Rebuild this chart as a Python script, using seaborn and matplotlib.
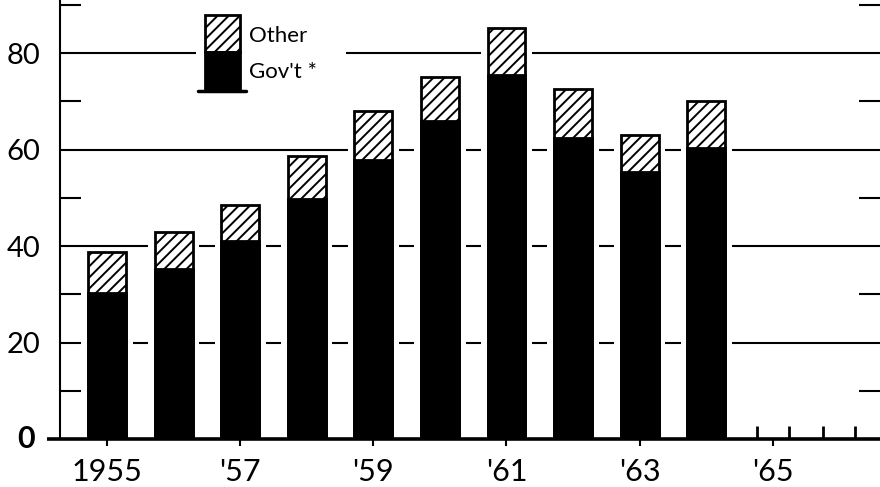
import numpy as np
import pandas as pd
import seaborn as sns
import matplotlib
matplotlib.use("Agg")
import matplotlib.pyplot as plt
from matplotlib.patches import Rectangle
from matplotlib.lines import Line2D

# ---- data ----
years = [1955, 1956, 1957, 1958, 1959, 1960, 1961, 1962, 1963, 1964]
gov = [30.3, 35.2, 41.1, 49.8, 57.8, 65.9, 75.4, 62.3, 55.4, 60.4]
total = [38.8, 42.9, 48.5, 58.7, 67.9, 75.1, 85.2, 72.6, 63.0, 70.1]
future_years = [1965, 1966]
xtick_years = [1955, 1957, 1959, 1961, 1963, 1965]
xtick_labels = ["1955", "'57", "'59", "'61", "'63", "'65"]
ytick_major = [0, 20, 40, 60, 80]
ytick_labels = ["0", "20", "40", "60", "80"]
ytick_minor = [10, 30, 50, 70, 90]
legend_labels = ["Other", "Gov't *"]

df = pd.DataFrame({"year": years, "gov": gov, "total": total})

sns.set_theme(style="white")
plt.rcParams["font.family"] = ["Lato", "DejaVu Sans"]
plt.rcParams["text.color"] = "black"
plt.rcParams["xtick.color"] = "black"
plt.rcParams["ytick.color"] = "black"
plt.rcParams["xtick.labelcolor"] = "black"
plt.rcParams["ytick.labelcolor"] = "black"
plt.rcParams["hatch.linewidth"] = 1.4
plt.rcParams["hatch.color"] = "black"

W, H = 880, 487
fig = plt.figure(figsize=(W / 100, H / 100), dpi=100)
ax = fig.add_axes([60 / W, 48 / H, 820 / W, 439 / H])

BAR_W = 0.57
HALO = 0.2

# gridlines
for yv in ytick_major[1:]:
    ax.axhline(yv, color="black", lw=1.5, zorder=0.5)

# white halo around bars
sns.barplot(data=df, x="year", y="total", native_scale=True, width=BAR_W + HALO,
            color="white", saturation=1, errorbar=None, linewidth=0, zorder=1, ax=ax)
# hatched "other" part (full height)
sns.barplot(data=df, x="year", y="total", native_scale=True, width=BAR_W,
            color="white", saturation=1, errorbar=None, edgecolor="black",
            linewidth=2, hatch="///", zorder=2, ax=ax)
# government part
sns.barplot(data=df, x="year", y="gov", native_scale=True, width=BAR_W,
            color="black", saturation=1, errorbar=None, edgecolor="black",
            linewidth=2, zorder=3, ax=ax)

# small upward ticks marking future bar edges
edges = [y + s * 0.24 for y in future_years for s in (-1, 1)]
ax.vlines(edges, 0, 2.7, color="black", lw=2, zorder=4)

ax.set_xlim(1954.294, 1966.61)
ax.set_ylim(0, 91)
ax.set_xlabel("")
ax.set_ylabel("")

ax.set_xticks(xtick_years)
ax.set_xticklabels(xtick_labels, fontsize=22)
ax.tick_params(axis="x", which="major", direction="out", length=5, width=1.5,
               pad=9, bottom=True, color="black")

ax.set_yticks(ytick_major)
ax.set_yticklabels([""] + ytick_labels[1:], fontsize=21)
ax.set_yticks(ytick_minor, minor=True)
ax.tick_params(axis="y", which="major", length=0, pad=14)
ax.tick_params(axis="y", which="minor", direction="in", length=15, width=1.5,
               left=True, right=True, color="black")
# bold zero label, set further left as in the original
ax.text(-0.031, ytick_major[0], ytick_labels[0], transform=ax.get_yaxis_transform(),
        ha="right", va="center", fontsize=22, fontweight="bold", color="black")

for s in ["top", "right", "bottom"]:
    ax.spines[s].set_visible(False)
ax.spines["left"].set_linewidth(1.5)
ax.spines["left"].set_color("black")

# thick baseline extending left of the axis
ax.plot([-0.016, 1.0], [0, 0], transform=ax.get_yaxis_transform(),
        clip_on=False, color="black", lw=2.6, zorder=6, solid_capstyle="butt")

# ---- legend (stacked bar icon) ----
def fx(x):
    return x / W

def fy(y):
    return 1 - y / H

tf = fig.transFigure
fig.patches.append(Rectangle((fx(196), fy(100)), fx(346) - fx(196), fy(5) - fy(100),
                             transform=tf, facecolor="white", edgecolor="none", zorder=5))
fig.patches.append(Rectangle((fx(205), fy(52)), fx(240) - fx(205), fy(15) - fy(52),
                             transform=tf, facecolor="white", edgecolor="black",
                             hatch="///", lw=2, zorder=6))
fig.patches.append(Rectangle((fx(205), fy(91)), fx(240) - fx(205), fy(52) - fy(91),
                             transform=tf, facecolor="black", edgecolor="black",
                             lw=2, zorder=6))
fig.lines.append(Line2D([fx(198), fx(246)], [fy(91), fy(91)], transform=tf,
                        color="black", lw=2.5, zorder=7))
fig.text(fx(249), fy(36), legend_labels[0], fontsize=16, va="center", ha="left",
         zorder=7, color="black")
fig.text(fx(249), fy(72), legend_labels[1], fontsize=16, va="center", ha="left",
         zorder=7, color="black")

fig.savefig("out.png", dpi=100)
